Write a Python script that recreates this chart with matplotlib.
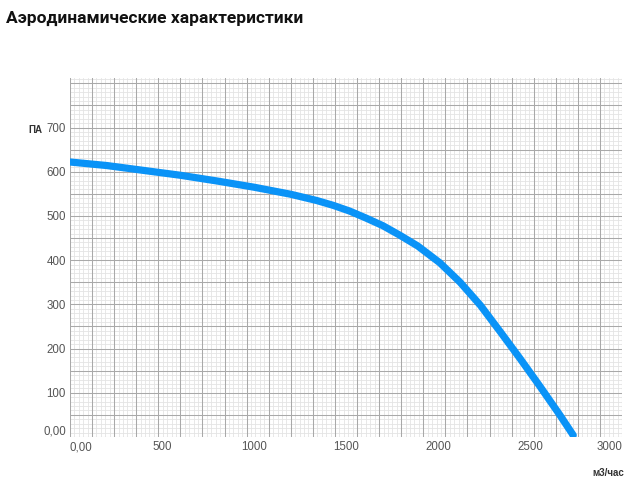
import numpy as np
from matplotlib import pyplot as plt

# aerodynamic curve of the fan
flow = [0, 200, 400, 600, 800, 1000, 1200, 1340, 1430, 1520, 1610, 1700, 1790,
        1890, 2010, 2120, 2230, 2335, 2445, 2555, 2660, 2735]
pressure = [622, 614, 603, 592, 579, 565, 549, 535, 524, 511, 495, 478, 457,
            432, 394, 350, 298, 240, 178, 114, 51, 4]

x_ticks = [0, 500, 1000, 1500, 2000, 2500, 3000]
x_labels = ["0,00", "500", "1000", "1500", "2000", "2500", "3000"]
y_ticks = [0, 100, 200, 300, 400, 500, 600, 700]
y_labels = ["0,00", "100", "200", "300", "400", "500", "600", "700"]

fig = plt.figure(figsize=(6.4, 4.91), dpi=100)
ax = fig.add_axes([70 / 640, 54 / 491, 552 / 640, 359 / 491])
ax.set_xlim(0, 3000)
ax.set_ylim(0, 812)

# graph paper background
for gx in np.arange(0, 3001, 24):
    major = abs(gx / 120 - round(gx / 120)) < 1e-6
    ax.axvline(gx, color="#a9a9a9" if major else "#e4e4e4",
               lw=0.75 if major else 0.6, zorder=1 if major else 0)
for gy in np.arange(0, 813, 10):
    major = gy % 50 == 0
    ax.axhline(gy, color="#a9a9a9" if major else "#e4e4e4",
               lw=0.75 if major else 0.6, zorder=1 if major else 0)

ax.plot(flow, pressure, color="#0a93f7", lw=5.2, solid_capstyle="round",
        solid_joinstyle="round", zorder=3)

for s in ax.spines.values():
    s.set_visible(False)

ax.set_xticks(x_ticks)
ax.set_xticklabels(x_labels)
ax.set_yticks(y_ticks)
ax.set_yticklabels(y_labels)
ax.tick_params(length=0, labelsize=8.3, labelcolor="#555555", pad=3)
for lab in ax.get_xticklabels() + ax.get_yticklabels():
    lab.set_family("Liberation Sans")
xl = ax.get_xticklabels()
xl[0].set_ha("left")
xl[-1].set_ha("right")
ax.get_yticklabels()[0].set_va("bottom")

fig.text(6 / 640, 1 - 18 / 491, "Аэродинамические характеристики", fontsize=12.5,
         fontweight="bold", family="Roboto", va="center", ha="left", color="#111111")
fig.text(35 / 640, 1 - 130 / 491, "ПА", fontsize=7, fontweight="bold",
         family="Liberation Sans", va="center", ha="center", color="#333333")
fig.text(608 / 640, 1 - 473 / 491, "м3/час", fontsize=7, fontweight="bold",
         family="Liberation Sans", va="center", ha="center", color="#333333")

fig.savefig("out.png", dpi=100)
